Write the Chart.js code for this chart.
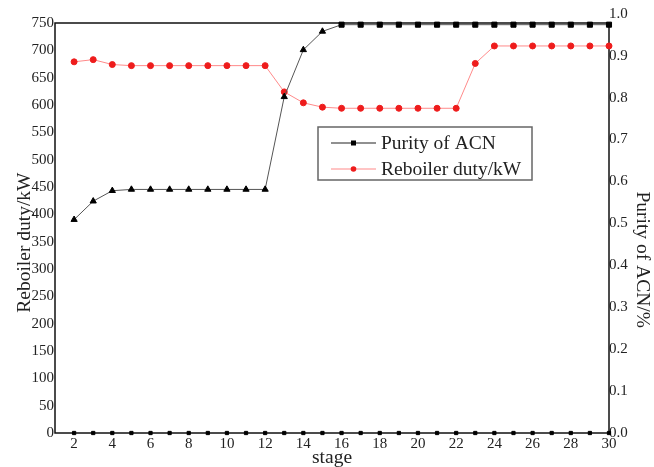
<!DOCTYPE html>
<html>
<head>
<meta charset="utf-8">
<script src="https://cdn.jsdelivr.net/npm/chart.js@4"></script>
<style>
html,body{margin:0;padding:0;background:#fff;}
#wrap{width:654px;height:467px;position:relative;}
</style>
</head>
<body>
<div id="wrap"><canvas id="c" width="654" height="467"></canvas></div>
<script>
const stages = [2,3,4,5,6,7,8,9,10,11,12,13,14,15,16,17,18,19,20,21,22,23,24,25,26,27,28,29,30];
const reboilerDuty = [679,683,674,672,672,672,672,672,672,672,672,624,604,596,594,594,594,594,594,594,594,676,708,708,708,708,708,708,708];
const purityACN = [0.509,0.553,0.578,0.581,0.581,0.581,0.581,0.581,0.581,0.581,0.581,0.802,0.914,0.958,0.974,0.974,0.974,0.974,0.974,0.974,0.974,0.974,0.974,0.974,0.974,0.974,0.974,0.974,0.974];
const baseline = stages.map(() => 0);
const xTicks = [2,4,6,8,10,12,14,16,18,20,22,24,26,28,30];
const leftTicks = [0,50,100,150,200,250,300,350,400,450,500,550,600,650,700,750];
const rightTicks = [0,0.1,0.2,0.3,0.4,0.5,0.6,0.7,0.8,0.9,1.0];
const seriesNames = ['Purity of ACN','Reboiler duty/kW'];

const FONT = "'Liberation Serif','Times New Roman',serif";
const TITLE_SIZE = 19.5;
const purityStyles = stages.map(s => s >= 16 ? 'rect' : 'triangle');

const framePlugin = {
  id: 'frame',
  beforeDatasetsDraw(chart) {
    const {ctx, chartArea: a} = chart;
    ctx.save();
    ctx.strokeStyle = '#111';
    ctx.lineWidth = 1.5;
    ctx.strokeRect(a.left, a.top, a.right - a.left, a.bottom - a.top);
    ctx.restore();
  },
  afterDraw(chart) {
    const ctx = chart.ctx;
    const bx = 318, by = 127, bw = 214, bh = 53;
    ctx.save();
    ctx.fillStyle = '#fff';
    ctx.fillRect(bx, by, bw, bh);
    ctx.strokeStyle = '#666';
    ctx.lineWidth = 1.5;
    ctx.strokeRect(bx, by, bw, bh);
    const items = [
      {y: 143, line: '#222', mark: '#000', style: 'rect', label: seriesNames[0]},
      {y: 169, line: '#ff8a8a', mark: '#ee1c1c', style: 'circle', label: seriesNames[1]}
    ];
    items.forEach(it => {
      ctx.strokeStyle = it.line;
      ctx.lineWidth = 1.2;
      ctx.beginPath();
      ctx.moveTo(331, it.y);
      ctx.lineTo(376, it.y);
      ctx.stroke();
      ctx.fillStyle = it.mark;
      if (it.style === 'rect') {
        ctx.fillRect(351, it.y - 2.5, 5, 5);
      } else {
        ctx.beginPath();
        ctx.arc(353.5, it.y, 2.8, 0, Math.PI * 2);
        ctx.fill();
      }
      ctx.fillStyle = '#222';
      ctx.font = TITLE_SIZE + 'px ' + FONT;
      ctx.textBaseline = 'middle';
      ctx.textAlign = 'left';
      ctx.fillText(it.label, 381, it.y + 1);
    });
    ctx.restore();
  }
};

new Chart(document.getElementById('c'), {
  type: 'line',
  data: {
    datasets: [
      {
        label: seriesNames[0],
        data: stages.map((s, i) => ({x: s, y: purityACN[i]})),
        yAxisID: 'y1',
        borderColor: '#555',
        borderWidth: 1,
        backgroundColor: '#000',
        pointBackgroundColor: '#000',
        pointBorderColor: '#000',
        pointStyle: purityStyles,
        pointRadius: 3.6,
        tension: 0,
        clip: false
      },
      {
        label: seriesNames[1],
        data: stages.map((s, i) => ({x: s, y: reboilerDuty[i]})),
        yAxisID: 'y',
        borderColor: '#ff8a8a',
        borderWidth: 1,
        backgroundColor: '#ee1c1c',
        pointBackgroundColor: '#ee1c1c',
        pointBorderColor: '#ee1c1c',
        pointStyle: 'circle',
        pointRadius: 3,
        tension: 0,
        clip: false
      },
      {
        label: 'base',
        data: stages.map((s, i) => ({x: s, y: baseline[i]})),
        yAxisID: 'y',
        showLine: false,
        pointStyle: 'rect',
        pointRadius: 2.3,
        pointBackgroundColor: '#000',
        pointBorderColor: '#000',
        clip: false
      }
    ]
  },
  options: {
    responsive: false,
    animation: false,
    events: [],
    layout: {padding: {top: 23, left: 0, right: 0, bottom: 0}},
    plugins: {legend: {display: false}, tooltip: {enabled: false}},
    scales: {
      x: {
        type: 'linear',
        min: 1, max: 30,
        grid: {display: false, drawTicks: false},
        border: {display: false},
        afterBuildTicks: s => { s.ticks = xTicks.map(v => ({value: v})); },
        afterFit: s => { s.height = 34; },
        ticks: {autoSkip: false, maxRotation: 0, padding: 2, color: '#222', font: {family: FONT, size: 15}},
        title: {display: true, text: 'stage', color: '#222', padding: {top: 0, bottom: -3}, font: {family: FONT, size: TITLE_SIZE}}
      },
      y: {
        position: 'left',
        min: 0, max: 750,
        grid: {display: false, drawTicks: false},
        border: {display: false},
        afterBuildTicks: s => { s.ticks = leftTicks.map(v => ({value: v})); },
        afterFit: s => { s.width = 55; },
        ticks: {autoSkip: false, padding: 1, color: '#222', font: {family: FONT, size: 15}},
        title: {display: true, text: 'Reboiler duty/kW      ', color: '#222', padding: {top: 13, bottom: 0}, font: {family: FONT, size: TITLE_SIZE}}
      },
      y1: {
        position: 'right',
        min: 0, max: 0.978,
        grid: {display: false, drawTicks: false},
        border: {display: false},
        afterBuildTicks: s => { s.ticks = rightTicks.map(v => ({value: v})); },
        afterFit: s => { s.width = 45; },
        ticks: {autoSkip: false, padding: 0, color: '#222', font: {family: FONT, size: 15},
                callback: v => Number(v).toFixed(1)},
        title: {display: true, text: '             Purity of ACN/%', color: '#222', padding: 0, font: {family: FONT, size: TITLE_SIZE}}
      }
    }
  },
  plugins: [framePlugin]
});
</script>
</body>
</html>
